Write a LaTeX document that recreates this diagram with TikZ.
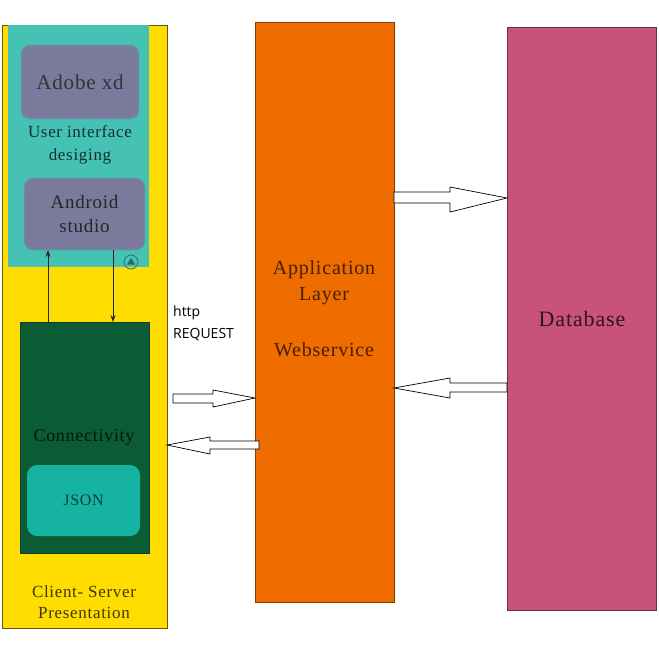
\documentclass[tikz,border=0pt]{standalone}
\usepackage{fontspec}
\setmainfont{Liberation Serif}
\newfontfamily\serifface[LetterSpace=4]{Liberation Serif}
\newfontfamily\uisans{Open Sans}
\usetikzlibrary{calc,arrows.meta}
\definecolor{cyellow}{HTML}{FFDD00}
\definecolor{cteal}{HTML}{45C2B4}
\definecolor{cpurple}{HTML}{7A7A9C}
\definecolor{cdgreen}{HTML}{0B5B35}
\definecolor{cjson}{HTML}{16B3A2}
\definecolor{corange}{HTML}{EE6C00}
\definecolor{cpink}{HTML}{C8527A}
\tikzset{
  panel/.style={anchor=north west, inner sep=0pt, outer sep=0pt},
  tool/.style={panel, rounded corners=9pt, fill=cpurple, draw=cteal!70!cpurple, line width=0.6pt},
  lbl/.style={align=center, inner sep=0pt},
  thinarrow/.style={-{Stealth[length=7pt,width=5pt]}, line width=0.8pt, draw=black!85},
  blockarrow/.style={draw=black, fill=white, line width=0.7pt, line join=miter}
}
\begin{document}
\begin{tikzpicture}[x=1pt,y=-1pt]
\useasboundingbox (0,0) rectangle (659,662);
\fill[white] (0,0) rectangle (659,662);
% left column
\node[panel, fill=cyellow, draw=black!60!cyellow, line width=0.8pt, minimum width=165pt, minimum height=603pt] (client) at (2,25) {};
\node[panel, fill=cteal, minimum width=141pt, minimum height=242pt] (ui) at (8,25) {};
\node[tool, minimum width=118pt, minimum height=74pt] (xd) at (21,45) {};
\node[lbl, text=black!80, font=\serifface\fontsize{21}{24}\selectfont] at (xd.center) {Adobe xd};
\node[lbl, text=cteal!25!black, font=\serifface\fontsize{17}{23}\selectfont] (uitext) at (80,145) {User interface\\desiging};
\node[tool, minimum width=121pt, minimum height=72pt] (android) at (24,178) {};
\node[lbl, text=black!85, font=\serifface\fontsize{19}{24}\selectfont] at (android.center) {Android\\studio};
\node[circle, draw=black!40!cteal, line width=0.8pt, minimum size=14pt, inner sep=0pt] (badge) at (131,262) {};
\fill[black!45!cteal] ($(badge.center)+(-4,2.5)$) -- ($(badge.center)+(4,2.5)$) -- ($(badge.center)+(0,-4)$) -- cycle;
\node[panel, fill=cdgreen, draw=cdgreen!70!black, line width=0.6pt, minimum width=129pt, minimum height=231pt] (conn) at (20,322) {};
\node[lbl, text=black!75!cdgreen, font=\serifface\fontsize{18}{22}\selectfont] (conntext) at (84,437) {Connectivity};
\node[panel, rounded corners=10pt, fill=cjson, minimum width=113pt, minimum height=71pt] (json) at (27,465) {};
\node[lbl, text=cjson!35!black, font=\serifface\fontsize{16}{20}\selectfont] at (json.center) {JSON};
\node[lbl, text=cyellow!25!black, font=\serifface\fontsize{17}{21}\selectfont] (clienttext) at (84,602) {Client- Server\\Presentation};
% arrows android <-> connectivity
\draw[thinarrow] (conn.north -| 48,0) -- (android.south -| 48,0);
\draw[thinarrow] (android.south -| 113,0) -- (conn.north -| 113,0);
% application layer
\node[panel, fill=corange, draw=corange!55!black, line width=0.8pt, minimum width=139pt, minimum height=580pt] (app) at (255,22) {};
\node[lbl, text=corange!30!black, font=\serifface\fontsize{20}{26}\selectfont] at (324,283) {Application\\Layer};
\node[lbl, text=corange!30!black, font=\serifface\fontsize{20}{26}\selectfont] at (324,350) {Webservice};
% database
\node[panel, fill=cpink, draw=cpink!55!black, line width=0.8pt, minimum width=149pt, minimum height=583pt] (db) at (507,27) {};
\node[lbl, text=cpink!25!black, font=\serifface\fontsize{22}{26}\selectfont] at (582,319) {Database};
% http request label
\node[anchor=north west, align=left, inner sep=0pt, font=\uisans\fontsize{14}{22}\selectfont] (http) at (173,306) {http\\REQUEST};
% block arrows
\coordinate (rq) at (173,398);
\draw[blockarrow] (rq |- 0,394) -- (213,394) -- (213,390) -- (app.west |- 0,398) -- (213,407) -- (213,403) -- (rq |- 0,403) -- cycle;
\draw[blockarrow] (259,441) -- (210,441) -- (210,437) -- (client.east |- 0,445) -- (210,454) -- (210,449) -- (259,449) -- cycle;
\draw[blockarrow] (app.east |- 0,192) -- (450,192) -- (450,187) -- (db.west |- 0,198) -- (450,212) -- (450,203) -- (app.east |- 0,203) -- cycle;
\draw[blockarrow] (db.west |- 0,383) -- (450,383) -- (450,378) -- (app.east |- 0,388) -- (450,398) -- (450,392) -- (db.west |- 0,392) -- cycle;
\end{tikzpicture}
\end{document}
